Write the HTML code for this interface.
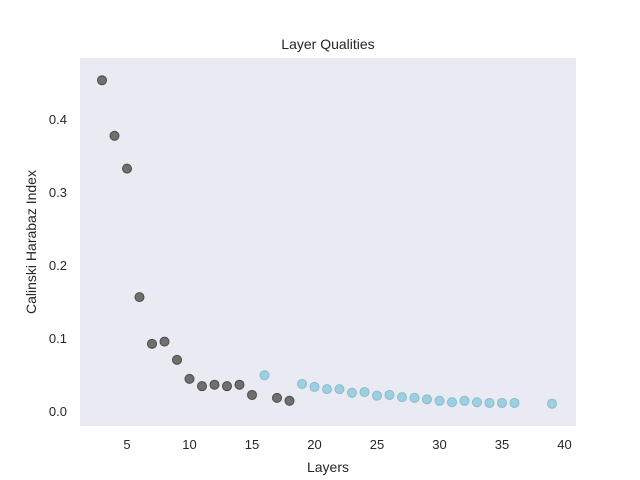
<!DOCTYPE html>
<html>
<head>
<meta charset="utf-8">
<style>
  html,body{margin:0;padding:0;background:#fff;}
  svg{display:block;font-family:"Liberation Sans","DejaVu Sans",sans-serif;}
</style>
</head>
<body>
<svg id="chart" width="640" height="480" viewBox="0 0 640 480">
  <rect x="80" y="58" width="496" height="368" fill="#eaeaf2"/>
  <text x="328" y="49" font-size="14" text-anchor="middle" fill="#262626">Layer Qualities</text>
  <text x="328" y="472" font-size="14" text-anchor="middle" fill="#262626">Layers</text>
  <text x="0" y="0" font-size="14" text-anchor="middle" fill="#262626" transform="translate(36,242) rotate(-90)">Calinski Harabaz Index</text>
  <g id="xticks"></g>
  <g id="yticks"></g>
  <g id="points"></g>
</svg>
<script>
const layers = [3,4,5,6,7,8,9,10,11,12,13,14,15,16,17,18,19,20,21,22,23,24,25,26,27,28,29,30,31,32,33,34,35,36,39];
const scores = [0.453,0.377,0.332,0.156,0.092,0.095,0.070,0.044,0.034,0.036,0.034,0.036,0.022,0.049,0.018,0.014,0.037,0.033,0.030,0.030,0.025,0.026,0.021,0.022,0.019,0.018,0.016,0.014,0.012,0.014,0.012,0.011,0.011,0.011,0.010];
const groups = ['a','a','a','a','a','a','a','a','a','a','a','a','a','b','a','a','b','b','b','b','b','b','b','b','b','b','b','b','b','b','b','b','b','b','b'];
const xTicks = [5,10,15,20,25,30,35,40];
const yTicks = [0.0,0.1,0.2,0.3,0.4];
const yTickLabels = ['0.0','0.1','0.2','0.3','0.4'];

const NS = 'http://www.w3.org/2000/svg';
function xScale(v){ return 64.5 + v*12.5; }
function yScale(v){ return 411 - v*730; }

const xt = document.getElementById('xticks');
xTicks.forEach(t=>{
  const tx = document.createElementNS(NS,'text');
  
  
  tx.setAttribute('x', xScale(t));
  tx.setAttribute('y', 449);
  tx.setAttribute('font-size','13');
  tx.setAttribute('text-anchor','middle');
  tx.setAttribute('fill','#262626');
  tx.textContent = t;
  xt.appendChild(tx);
});
const yt = document.getElementById('yticks');
yTicks.forEach((t,i)=>{
  const tx = document.createElementNS(NS,'text');
  
  
  tx.setAttribute('x', 67);
  tx.setAttribute('y', yScale(t)+5);
  tx.setAttribute('font-size','13');
  tx.setAttribute('text-anchor','end');
  tx.setAttribute('fill','#262626');
  tx.textContent = yTickLabels[i];
  yt.appendChild(tx);
});
const pg = document.getElementById('points');
layers.forEach((l,i)=>{
  const c = document.createElementNS(NS,'circle');
  
  
  c.setAttribute('cx', xScale(l));
  c.setAttribute('cy', yScale(scores[i]));
  c.setAttribute('r', 4.5);
  if(groups[i]==='a'){
    c.setAttribute('fill','#6f6f70');
    c.setAttribute('stroke','#4a4a4a');
  } else {
    c.setAttribute('fill','#9dcfe0');
    c.setAttribute('stroke','#86bccf');
  }
  c.setAttribute('stroke-width','1');
  pg.appendChild(c);
});
</script>
</body>
</html>
